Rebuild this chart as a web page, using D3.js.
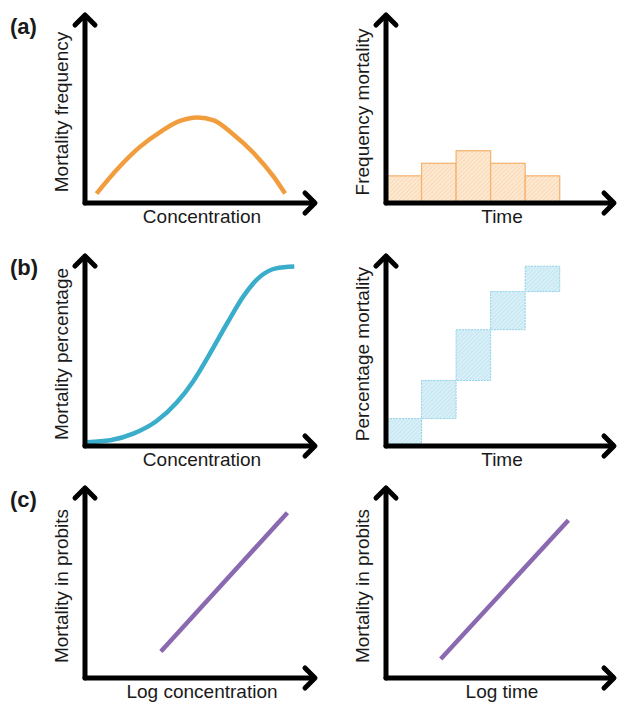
<!DOCTYPE html>
<html>
<head>
<meta charset="utf-8">
<script src="https://cdn.jsdelivr.net/npm/d3@7"></script>
<style>
  body { margin: 0; background: #fff; }
  text { font-family: "Liberation Sans", Arial, sans-serif; fill: #1a1a1a; }
</style>
</head>
<body>
<script>
// data (arbitrary units)
const bellX = [5, 14, 24, 33, 41, 49, 56, 64, 73, 82, 87];
const bellY = [5, 18, 30, 38, 43.5, 45.5, 44, 37, 27, 14, 5];
const sigX = [1, 11, 21, 31, 40, 47, 54, 62, 69, 76, 83, 91];
const sigY = [2, 3, 6.5, 13, 23, 34, 48, 65, 79, 89, 93.5, 94.5];
const freqBins = [1, 2, 3, 4, 5];
const freqMortality = [1, 1.5, 2, 1.5, 1];
const cumMortality = [1, 2.5, 4.5, 6, 7];
const probitConcX = [33, 88];
const probitConcY = [14, 87];
const probitTimeX = [24, 80];
const probitTimeY = [10, 83];

const panelTags = ["(a)", "(b)", "(c)"];
const yLabels = [["Mortality frequency", "Frequency mortality"],
                 ["Mortality percentage", "Percentage mortality"],
                 ["Mortality in probits", "Mortality in probits"]];
const xLabels = [["Concentration", "Time"],
                 ["Concentration", "Time"],
                 ["Log concentration", "Log time"]];

const width = 621, height = 706;
const rows = [{top: 15, base: 203}, {top: 256, base: 446}, {top: 488, base: 678}];
const cols = [{left: 85, right: 315}, {left: 386, right: 614}];

const svg = d3.select("body").append("svg")
    .attr("width", width)
    .attr("height", height);

// hatch patterns
const defs = svg.append("defs");
function hatch(id, bg, line) {
    const p = defs.append("pattern")
        .attr("id", id)
        .attr("patternUnits", "userSpaceOnUse")
        .attr("width", 3).attr("height", 3)
        .attr("patternTransform", "rotate(45)");
    p.append("rect").attr("width", 3).attr("height", 3).attr("fill", bg);
    p.append("line").attr("x1", 0).attr("y1", 0).attr("x2", 0).attr("y2", 3)
        .attr("stroke", line).attr("stroke-width", 1);
}
hatch("hatchOrange", "#fde9d2", "#f8c998");
hatch("hatchBlue", "#d9eff7", "#ade0ee");

// one panel: scales for a 0-100 space inside the axes
function panel(r, c) {
    const row = rows[r], col = cols[c];
    const g = svg.append("g");
    const x = d3.scaleLinear().domain([0, 100]).range([col.left, col.right]);
    const y = d3.scaleLinear().domain([0, 100]).range([row.base, row.top]);
    return {g, x, y, row, col};
}

// axes with arrows + labels
function axes(p, r, c) {
    const {g, row, col} = p;
    const ax = g.append("g").attr("fill", "none").attr("stroke", "#000")
        .attr("stroke-width", 5).attr("stroke-linecap", "round").attr("stroke-linejoin", "round");
    ax.append("path").attr("d", `M${col.left},${row.base}V${row.top + 2}`);
    ax.append("path").attr("d", `M${col.left},${row.base}H${col.right - 2}`);
    ax.append("path").attr("d", `M${col.left - 10},${row.top + 10}L${col.left},${row.top}L${col.left + 10},${row.top + 10}`);
    ax.append("path").attr("d", `M${col.right - 10},${row.base - 10}L${col.right},${row.base}L${col.right - 10},${row.base + 10}`);

    g.append("text")
        .attr("transform", `translate(${col.left - 17},${(row.top + row.base) / 2 + 3}) rotate(-90)`)
        .attr("text-anchor", "middle")
        .style("font-size", "19px")
        .text(yLabels[r][c]);
    g.append("text")
        .attr("x", (col.left + col.right) / 2 + 2)
        .attr("y", row.base + 20)
        .attr("text-anchor", "middle")
        .style("font-size", "19px")
        .text(xLabels[r][c]);
    if (c === 0) {
        g.append("text")
            .attr("x", 10)
            .attr("y", row.top + 19)
            .style("font-size", "22px")
            .style("font-weight", "bold")
            .text(panelTags[r]);
    }
}

const line = (p) => d3.line().x(d => p.x(d[0])).y(d => p.y(d[1])).curve(d3.curveMonotoneX);

// (a) left: bell curve
let p = panel(0, 0);
p.g.append("path")
    .datum(d3.zip(bellX, bellY))
    .attr("d", line(p))
    .attr("fill", "none").attr("stroke", "#f29d3d").attr("stroke-width", 4.5);
axes(p, 0, 0);

// (a) right: histogram
p = panel(0, 1);
let tx = d3.scaleLinear().domain([0, 6.6]).range([p.col.left + 1, p.col.right + 1]);
let ty = d3.scaleLinear().domain([0, 7.4]).range([p.row.base - 2, p.row.top]);
p.g.selectAll("rect.bar")
    .data(freqMortality)
    .enter().append("rect")
    .attr("x", (d, i) => tx(freqBins[i] - 1))
    .attr("width", tx(1) - tx(0))
    .attr("y", d => ty(d))
    .attr("height", d => ty(0) - ty(d) + 2)
    .attr("fill", "url(#hatchOrange)")
    .attr("stroke", "#f6b06a").attr("stroke-width", 1.2);
axes(p, 0, 1);

// (b) left: sigmoid
p = panel(1, 0);
p.g.append("path")
    .datum(d3.zip(sigX, sigY))
    .attr("d", line(p))
    .attr("fill", "none").attr("stroke", "#3aadcb").attr("stroke-width", 4.5);
axes(p, 1, 0);

// (b) right: cumulative steps
p = panel(1, 1);
tx = d3.scaleLinear().domain([0, 6.6]).range([p.col.left + 1, p.col.right + 1]);
ty = d3.scaleLinear().domain([0, 7.4]).range([p.row.base - 2, p.row.top]);
p.g.selectAll("rect.step")
    .data(cumMortality)
    .enter().append("rect")
    .attr("x", (d, i) => tx(freqBins[i] - 1))
    .attr("width", tx(1) - tx(0))
    .attr("y", d => ty(d))
    .attr("height", (d, i) => ty(i === 0 ? 0 : cumMortality[i - 1]) - ty(d))
    .attr("fill", "url(#hatchBlue)")
    .attr("stroke", "#92d2e6").attr("stroke-width", 1)
    .attr("stroke-dasharray", "2,1");
axes(p, 1, 1);

// (c) probit lines
p = panel(2, 0);
p.g.append("path")
    .datum(d3.zip(probitConcX, probitConcY))
    .attr("d", line(p))
    .attr("fill", "none").attr("stroke", "#8a69b0").attr("stroke-width", 4.5);
axes(p, 2, 0);

p = panel(2, 1);
p.g.append("path")
    .datum(d3.zip(probitTimeX, probitTimeY))
    .attr("d", line(p))
    .attr("fill", "none").attr("stroke", "#8a69b0").attr("stroke-width", 4.5);
axes(p, 2, 1);
</script>
</body>
</html>
